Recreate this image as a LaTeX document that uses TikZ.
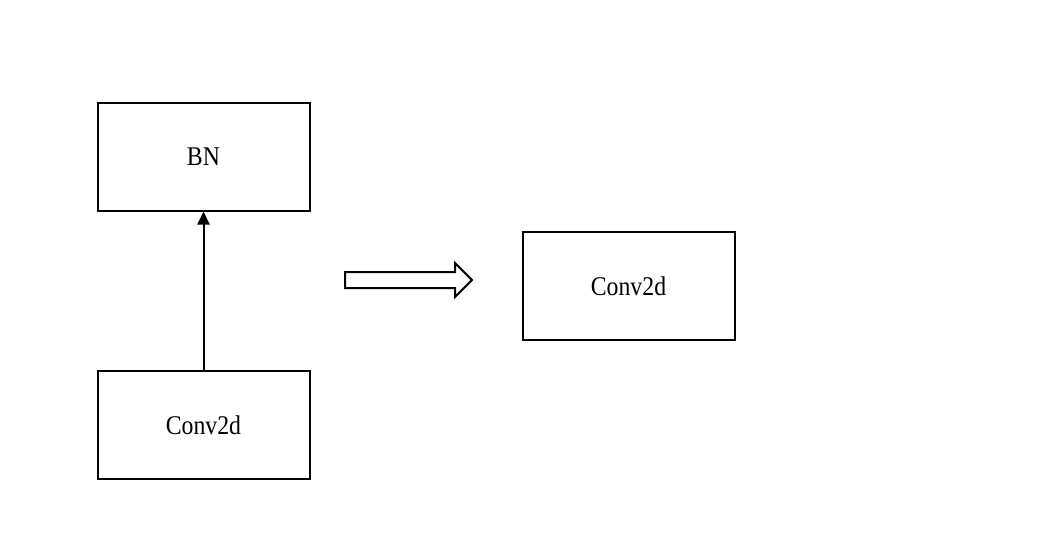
\documentclass[tikz,border=0pt]{standalone}
\usepackage{fontspec}
\setmainfont{Liberation Serif}[FakeStretch=0.88]
\usetikzlibrary{arrows.meta}
\begin{document}
\begin{tikzpicture}[x=1pt,y=-1pt,
  blk/.style={draw=black,line width=2pt,minimum width=212pt,minimum height=108pt,inner sep=0pt,font=\fontsize{27}{31}\selectfont},
  conn/.style={line width=2pt,-{Triangle[length=13pt,width=12pt]}}]
\useasboundingbox (0,0) rectangle (1038,546);
\node[blk] (bn) at (203.5,156.5) {BN};
\node[blk] (conv) at (203.5,425) {Conv2d};
\node[blk] (res) at (628.5,286) {Conv2d};
\draw[conn] (conv.north) -- (bn.south);
\draw[line width=2pt,line join=miter,fill=white] (345,272) coordinate (ha) -- (455,272) -- (455,263) -- (472,280) -- (455,297) -- (455,288) -- (345,288) -- cycle;
\end{tikzpicture}
\end{document}
